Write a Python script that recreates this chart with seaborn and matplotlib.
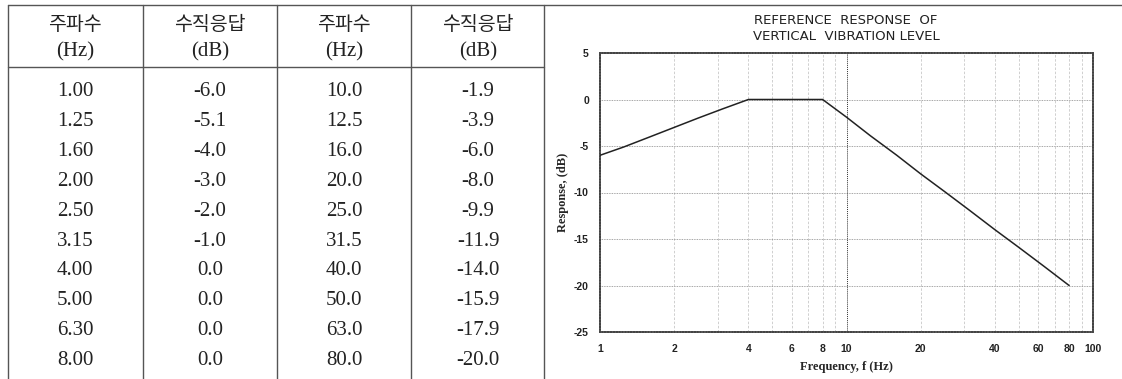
import matplotlib
matplotlib.use("Agg")
import matplotlib.pyplot as plt
from matplotlib.lines import Line2D
from matplotlib.ticker import FixedLocator, NullFormatter, NullLocator
import pandas as pd
import seaborn as sns

# table / chart data
freq_low = ["1.00", "1.25", "1.60", "2.00", "2.50", "3.15", "4.00", "5.00", "6.30", "8.00"]
resp_low = ["-6.0", "-5.1", "-4.0", "-3.0", "-2.0", "-1.0", "0.0", "0.0", "0.0", "0.0"]
freq_high = ["10.0", "12.5", "16.0", "20.0", "25.0", "31.5", "40.0", "50.0", "63.0", "80.0"]
resp_high = ["-1.9", "-3.9", "-6.0", "-8.0", "-9.9", "-11.9", "-14.0", "-15.9", "-17.9", "-20.0"]
headers = [("주파수", "(Hz)"), ("수직응답", "(dB)"), ("주파수", "(Hz)"), ("수직응답", "(dB)")]

x_ticks = [1, 2, 4, 6, 8, 10, 20, 40, 60, 80, 100]
y_ticks = [5, 0, -5, -10, -15, -20, -25]

W, H = 1122, 379


def fx(px):
    return px / W


def fy(py):
    return 1 - py / H


def draw_table(fig):
    line_kw = dict(color="#555555", lw=1.0)
    # outer frame lines
    fig.add_artist(Line2D([fx(8), 1], [fy(5), fy(5)], **line_kw))
    fig.add_artist(Line2D([fx(8), fx(544)], [fy(67), fy(67)], **line_kw))
    for px in [8, 143, 277, 411, 544]:
        fig.add_artist(Line2D([fx(px), fx(px)], [fy(5), 0], **line_kw))

    centers = [75, 210, 344, 478]
    for cx, (top, bottom) in zip(centers, headers):
        fig.text(fx(cx), fy(25), top, ha="center", va="center", fontsize=14,
                 family=["Noto Sans CJK KR", "DejaVu Sans"], fontweight="light",
                 color="#222222")
        fig.text(fx(cx), fy(52), bottom, ha="center", va="center", fontsize=15,
                 family="Liberation Serif", color="#222222")

    cols = [freq_low, resp_low, freq_high, resp_high]
    for cx, col in zip(centers, cols):
        for i, val in enumerate(col):
            fig.text(fx(cx), fy(92 + i * 29.8), val, ha="center", va="center",
                     fontsize=15, family="Liberation Serif", color="#222222")


def draw_chart(fig):
    df = pd.DataFrame({
        "freq": [float(v) for v in freq_low + freq_high],
        "resp": [float(v) for v in resp_low + resp_high],
    })
    ax = fig.add_axes([fx(600), fy(332), fx(1093) - fx(600), fy(53) - fy(332)])
    ax.set_xscale("log")
    sns.lineplot(data=df, x="freq", y="resp", ax=ax, color="#222222", lw=1.1,
                 sort=False, zorder=5)
    ax.set_xlim(1, 100)
    ax.set_ylim(-25, 5)

    # grid
    for v in [2, 3, 4, 5, 6, 7, 8, 9, 20, 30, 40, 50, 60, 70, 80, 90]:
        ax.axvline(v, color="#c8c8c8", lw=0.6, ls=(0, (3, 2)), zorder=1)
    ax.axvline(10, color="#333333", lw=0.7, ls=(0, (1, 1)), zorder=2)
    for v in y_ticks[1:-1]:
        ax.axhline(v, color="#888888", lw=0.6, ls=(0, (1, 1)), zorder=1)

    ax.xaxis.set_major_locator(FixedLocator(x_ticks))
    ax.xaxis.set_minor_locator(NullLocator())
    ax.xaxis.set_minor_formatter(NullFormatter())
    ax.set_xticklabels([str(t) for t in x_ticks])
    ax.set_yticks(y_ticks)
    ax.set_yticklabels([str(t) for t in y_ticks])
    ax.tick_params(length=0, labelsize=7.5)
    ax.tick_params(axis="x", pad=9)
    ax.tick_params(axis="y", pad=8)
    for lab in ax.get_xticklabels() + ax.get_yticklabels():
        lab.set_fontweight("bold")
        lab.set_family("Liberation Sans")
        lab.set_color("#222222")

    for sp in ax.spines.values():
        sp.set_color("#444444")
        sp.set_linewidth(1.3)
        sp.set_linestyle((0, (1, 0.6)))

    ax.set_xlabel("Frequency, f (Hz)", family="Liberation Serif", fontweight="bold",
                  fontsize=9)
    ax.set_ylabel("Response, (dB)", family="Liberation Serif", fontweight="bold",
                  fontsize=9)
    ax.xaxis.set_label_coords(0.5, -0.104)
    ax.yaxis.set_label_coords(-0.063, 0.5)

    fig.text(fx(846), fy(20), "REFERENCE  RESPONSE  OF", ha="center", va="center",
             fontsize=9.5, family="DejaVu Sans", color="#222222")
    fig.text(fx(846), fy(37), "VERTICAL  VIBRATION LEVEL", ha="center", va="center",
             fontsize=9.5, family="DejaVu Sans", color="#222222")


def main():
    sns.set_style("white")
    fig = plt.figure(figsize=(W / 100, H / 100), dpi=100)
    fig.patch.set_facecolor("white")
    draw_table(fig)
    draw_chart(fig)
    fig.savefig("out.png", dpi=100)


if __name__ == '__main__':
    main()
